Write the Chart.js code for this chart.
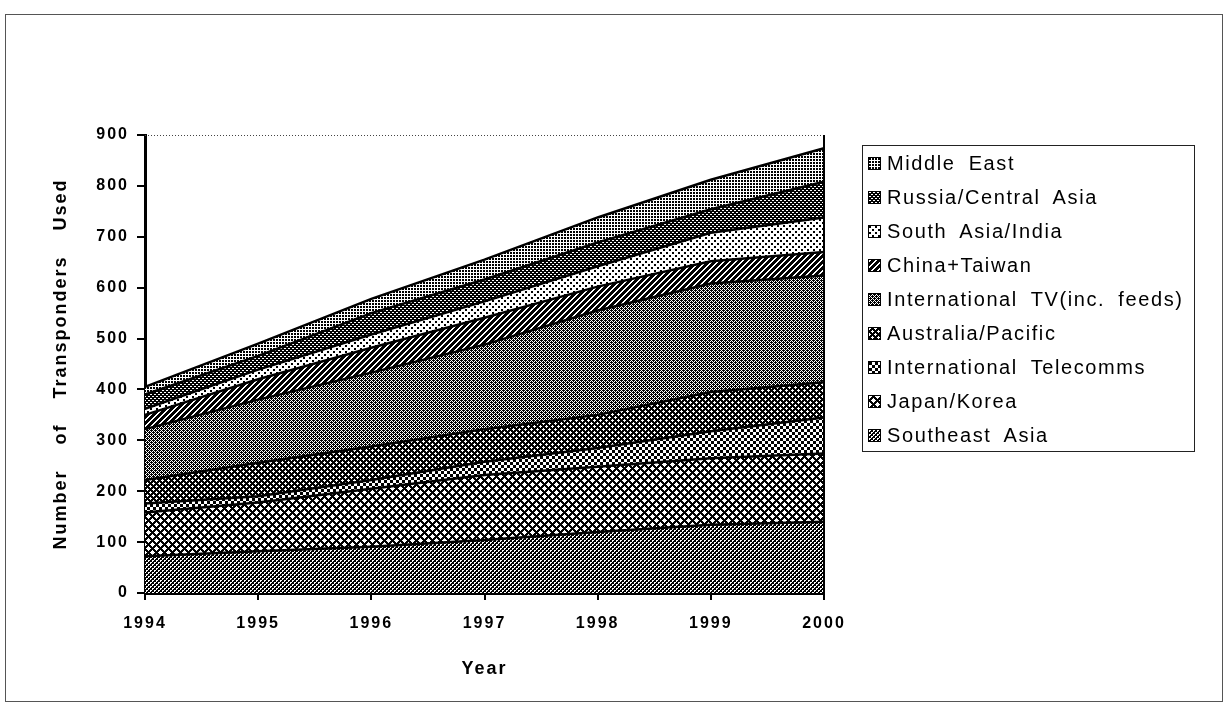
<!DOCTYPE html>
<html>
<head>
<meta charset="utf-8">
<script src="https://cdn.jsdelivr.net/npm/chart.js@4/dist/chart.umd.min.js"></script>
<style>
  body { margin: 0; background: #fff; }
  #wrap { position: relative; width: 1227px; height: 713px; }
  #frame { position: absolute; left: 5px; top: 14px; width: 1216px; height: 686px; border: 1px solid #555; }
  #legend {
    position: absolute; left: 862px; top: 145px; width: 333px; height: 307px;
    border: 1.5px solid #222; box-sizing: border-box;
    font-family: "Liberation Sans", Arial, sans-serif; font-size: 20px; color: #000;
    letter-spacing: 1.6px; word-spacing: 6px;
  }
  .item { height: 34px; display: flex; align-items: center; padding-left: 5px; }
  .item canvas { width: 11px; height: 11px; border: 1px solid #000; margin-right: 6px; }
</style>
</head>
<body>
<div id="wrap">
  <div id="frame"></div>
  <canvas id="transponders" width="1227" height="713"></canvas>
  <div id="legend"></div>
</div>
<script>
const years = ['1994', '1995', '1996', '1997', '1998', '1999', '2000'];

// transponders used per region, stacked bottom to top
const southeastAsia = [72, 82, 91, 104, 120, 134, 140];
const japanKorea = [86, 96, 114, 128, 128, 131, 134];
const intlTelecomms = [18, 12, 17, 26, 37, 53, 71];
const australiaPacific = [46, 66, 66, 64, 65, 77, 69];
const intlTv = [100, 124, 145, 166, 205, 213, 210];
const chinaTaiwan = [28, 40, 49, 53, 47, 44, 46];
const southAsiaIndia = [12, 19, 26, 32, 40, 56, 68];
const russiaCentralAsia = [28, 27, 42, 43, 47, 46, 70];
const middleEast = [15, 24, 28, 39, 49, 58, 66];

const FONT = '"Liberation Sans", Arial, sans-serif';

// black & white fill textures: [tile size, isBlack(x, y)]
function wrapDist(v, c, p) { const d = Math.abs(v - c) % p; return Math.min(d, p - d); }
const textures = {
  sea:    [4, (x, y) => !((x < 2 && y === 0) || (x === 0 && y === 1) || (x >= 2 && y === 2) || (x === 2 && y === 3))],
  japan:  [8, (x, y) => !(wrapDist(x, 0, 8) + wrapDist(y, 0, 8) <= 2 || wrapDist(x, 4, 8) + wrapDist(y, 4, 8) <= 2)],
  tele:   [6, (x, y) => (Math.floor(x / 3) + Math.floor(y / 3)) % 2 === 0],
  aus:    [6, (x, y) => !(wrapDist(x, 0, 6) + wrapDist(y, 0, 6) <= 1 || wrapDist(x, 3, 6) + wrapDist(y, 3, 6) <= 1)],
  tv:     [4, (x, y) => (x + y) % 2 === 0 || (x === 1 && y === 0) || (x === 3 && y === 2)],
  china:  [6, (x, y) => (x + y) % 6 >= 2],
  india:  [6, (x, y) => (x % 6 < 2 && y % 6 < 2) || ((x + 3) % 6 < 2 && (y + 3) % 6 < 2)],
  russia: [4, (x, y) => !((y === 0 && x < 2) || (y === 2 && x >= 2))],
  mideast:[3, (x, y) => x < 2 && y < 2],
};

function makeTile(name) {
  const [size, isBlack] = textures[name];
  const tile = document.createElement('canvas');
  tile.width = size; tile.height = size;
  const tctx = tile.getContext('2d');
  tctx.fillStyle = '#fff';
  tctx.fillRect(0, 0, size, size);
  tctx.fillStyle = '#000';
  for (let y = 0; y < size; y++)
    for (let x = 0; x < size; x++)
      if (isBlack(x, y)) tctx.fillRect(x, y, 1, 1);
  return tile;
}

const series = [
  {label: 'Southeast Asia', data: southeastAsia, look: 'sea'},
  {label: 'Japan/Korea', data: japanKorea, look: 'japan'},
  {label: 'International Telecomms', data: intlTelecomms, look: 'tele'},
  {label: 'Australia/Pacific', data: australiaPacific, look: 'aus'},
  {label: 'International TV(inc. feeds)', data: intlTv, look: 'tv'},
  {label: 'China+Taiwan', data: chinaTaiwan, look: 'china'},
  {label: 'South Asia/India', data: southAsiaIndia, look: 'india'},
  {label: 'Russia/Central Asia', data: russiaCentralAsia, look: 'russia'},
  {label: 'Middle East', data: middleEast, look: 'mideast'},
];

const canvas = document.getElementById('transponders');
const ctx = canvas.getContext('2d');

const datasets = series.map((s, i) => ({
  label: s.label,
  data: s.data,
  backgroundColor: ctx.createPattern(makeTile(s.look), 'repeat'),
  borderColor: '#000',
  borderWidth: 2.5,
  pointRadius: 0,
  tension: 0,
  fill: i === 0 ? 'origin' : '-1'
}));

// spaced-out lettering like the printed chart
function setSpacing(chart) {
  chart.ctx.letterSpacing = '2px';
  chart.ctx.wordSpacing = '18px';
}
const spacing = {
  id: 'spacing',
  beforeUpdate: setSpacing,
  beforeDraw: setSpacing
};

// dotted top edge and solid right edge of the plot area
const plotFrame = {
  id: 'plotFrame',
  afterDatasetsDraw(chart) {
    const {ctx, chartArea: a} = chart;
    ctx.save();
    ctx.strokeStyle = '#444';
    ctx.lineWidth = 1;
    ctx.setLineDash([1, 2]);
    ctx.beginPath();
    ctx.moveTo(a.left, a.top + 0.5);
    ctx.lineTo(a.right, a.top + 0.5);
    ctx.stroke();
    ctx.setLineDash([]);
    ctx.strokeStyle = '#000';
    ctx.lineWidth = 2;
    ctx.beginPath();
    ctx.moveTo(a.right, a.top);
    ctx.lineTo(a.right, a.bottom + 6);
    ctx.stroke();
    ctx.restore();
  }
};

new Chart(canvas, {
  type: 'line',
  data: {labels: years, datasets: datasets},
  plugins: [spacing, plotFrame],
  options: {
    responsive: false,
    animation: false,
    layout: {padding: {left: 0, right: 403, top: 135, bottom: 0}},
    plugins: {
      legend: {display: false},
      tooltip: {enabled: false}
    },
    scales: {
      x: {
        type: 'category',
        offset: false,
        grid: {drawOnChartArea: false, tickLength: 7, color: '#000', lineWidth: 2},
        border: {color: '#000', width: 3},
        ticks: {color: '#000', padding: 14, maxRotation: 0, font: {family: FONT, size: 16, weight: 'bold'}},
        title: {
          display: true,
          text: 'Year',
          color: '#000',
          font: {family: FONT, size: 18, weight: 'bold'},
          padding: {top: 0, bottom: 33}
        },
        afterFit(scale) { scale.height = 120; }
      },
      y: {
        stacked: true,
        min: 0,
        max: 900,
        grid: {drawOnChartArea: false, tickLength: 8, color: '#000', lineWidth: 2},
        border: {color: '#000', width: 3},
        ticks: {stepSize: 100, color: '#000', padding: 8, font: {family: FONT, size: 16, weight: 'bold'}},
        title: {
          display: true,
          text: 'Number of Transponders Used',
          color: '#000',
          font: {family: FONT, size: 18, weight: 'bold'},
          padding: {top: 50, bottom: 0}
        },
        afterFit(scale) { scale.width = 145; }
      }
    }
  }
});

// legend, top entry first
const legend = document.getElementById('legend');
series.slice().reverse().forEach(s => {
  const row = document.createElement('div');
  row.className = 'item';
  const sw = document.createElement('canvas');
  sw.width = 11; sw.height = 11;
  const sctx = sw.getContext('2d');
  sctx.fillStyle = sctx.createPattern(makeTile(s.look), 'repeat');
  sctx.fillRect(0, 0, 11, 11);
  const txt = document.createElement('span');
  txt.textContent = s.label;
  row.appendChild(sw);
  row.appendChild(txt);
  legend.appendChild(row);
});
</script>
</body>
</html>
